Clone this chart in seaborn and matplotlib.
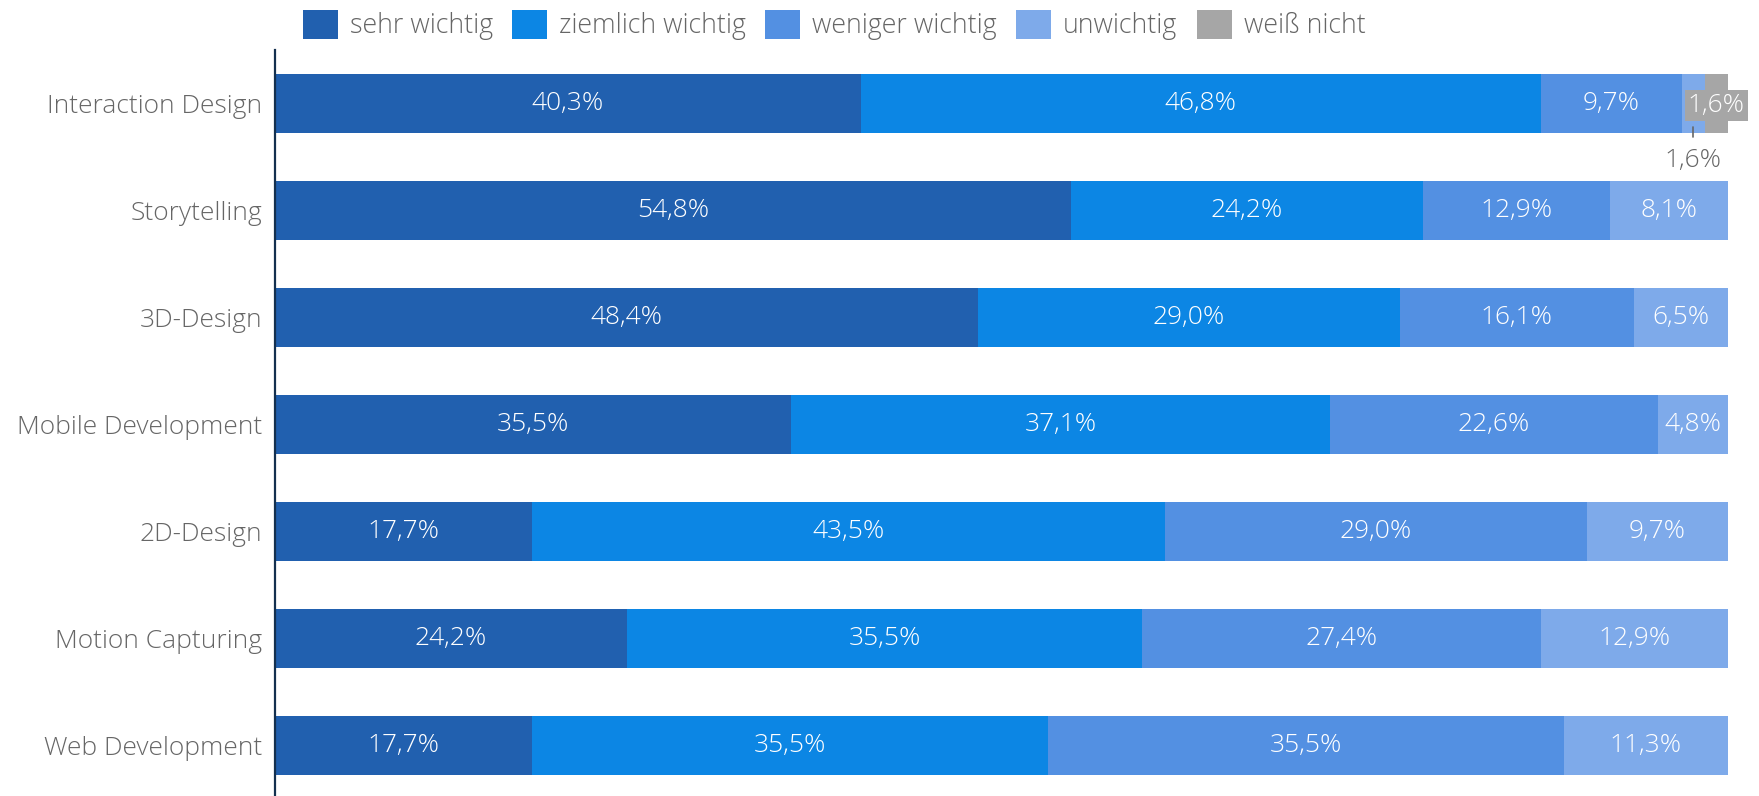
import matplotlib.pyplot as plt
import numpy as np
import pandas as pd
import seaborn as sns
from matplotlib.patches import Patch

categories = [
    "Interaction Design", "Storytelling", "3D-Design", "Mobile Development",
    "2D-Design", "Motion Capturing", "Web Development",
]
series = ["sehr wichtig", "ziemlich wichtig", "weniger wichtig", "unwichtig", "weiß nicht"]
sehr_wichtig = [40.3, 54.8, 48.4, 35.5, 17.7, 24.2, 17.7]
ziemlich_wichtig = [46.8, 24.2, 29.0, 37.1, 43.5, 35.5, 35.5]
weniger_wichtig = [9.7, 12.9, 16.1, 22.6, 29.0, 27.4, 35.5]
unwichtig = [1.6, 8.1, 6.5, 4.8, 9.7, 12.9, 11.3]
weiss_nicht = [1.6, 0, 0, 0, 0, 0, 0]

COLORS = ["#2160af", "#0c86e4", "#5390e2", "#7eaaea", "#a6a6a6"]
TEXT_GRAY = "#666666"

sns.set_style("white")
plt.rcParams["font.family"] = ["Open Sans", "DejaVu Sans"]

df = pd.DataFrame(
    {"category": categories, "sehr wichtig": sehr_wichtig, "ziemlich wichtig": ziemlich_wichtig,
     "weniger wichtig": weniger_wichtig, "unwichtig": unwichtig, "weiß nicht": weiss_nicht}
).set_index("category")
# percent stacking, like the original chart
pct = df.div(df.sum(axis=1), axis=0) * 100
cum = pct.cumsum(axis=1)

fig = plt.figure(figsize=(17.59, 7.96), dpi=100)
ax = fig.add_axes([275 / 1759, 0, (1728 - 275) / 1759, 746 / 796])

# draw cumulative bars back to front
for s, color in reversed(list(zip(series, COLORS))):
    sns.barplot(x=cum[s].values, y=categories, order=categories, color=color,
                width=0.556, saturation=1, ax=ax, orient="h", linewidth=0)

# segment labels
for i, cat in enumerate(categories):
    for s in series[:4]:
        v = df.loc[cat, s]
        if v <= 0 or (cat == "Interaction Design" and s == "unwichtig"):
            continue
        xc = cum.loc[cat, s] - pct.loc[cat, s] / 2
        ax.text(xc, i, f"{v:.1f}%".replace(".", ","), ha="center", va="center",
                color="white", fontsize=19, fontweight="light")

# small segments of the first row
i0 = 0
x_unw = cum.iloc[i0]["unwichtig"] - pct.iloc[i0]["unwichtig"] / 2
x_wn = cum.iloc[i0]["weiß nicht"] - pct.iloc[i0]["weiß nicht"] / 2
ax.text(x_wn, i0 + 0.02, f"{weiss_nicht[0]:.1f}%".replace(".", ","), ha="center", va="center",
        color="white", fontsize=19, fontweight="light", clip_on=False,
        bbox=dict(boxstyle="square,pad=0.12", fc=COLORS[4], ec="none"))
ax.plot([x_unw, x_unw], [0.215, 0.31], color=TEXT_GRAY, lw=1.2, clip_on=False)
ax.text(x_unw, 0.535, f"{unwichtig[0]:.1f}%".replace(".", ","), ha="center", va="center",
        color=TEXT_GRAY, fontsize=19, fontweight="light")

ax.set_xlim(0, 100)
ax.set_ylim(6.47, -0.5)
ax.set_xlabel("")
ax.set_ylabel("")
ax.set_xticks([])
ax.tick_params(axis="y", length=0, pad=9, labelsize=19, labelcolor=TEXT_GRAY)
for lbl in ax.get_yticklabels():
    lbl.set_fontweight("light")
sns.despine(ax=ax, left=False, bottom=True)
ax.spines["left"].set_color("#14304f")
ax.spines["left"].set_linewidth(1.6)

handles = [Patch(facecolor=c, edgecolor="none") for c in COLORS]
leg = fig.legend(handles, series, loc="center left", bbox_to_anchor=(303 / 1759, 1 - 25 / 796),
                 ncol=5, frameon=False, fontsize=19.3, handlelength=1.3, handleheight=1.3,
                 handletextpad=0.45, columnspacing=0.72, borderaxespad=0, borderpad=0)
for t in leg.get_texts():
    t.set_color(TEXT_GRAY)
    t.set_fontweight("light")

fig.savefig("out.png", dpi=100)
